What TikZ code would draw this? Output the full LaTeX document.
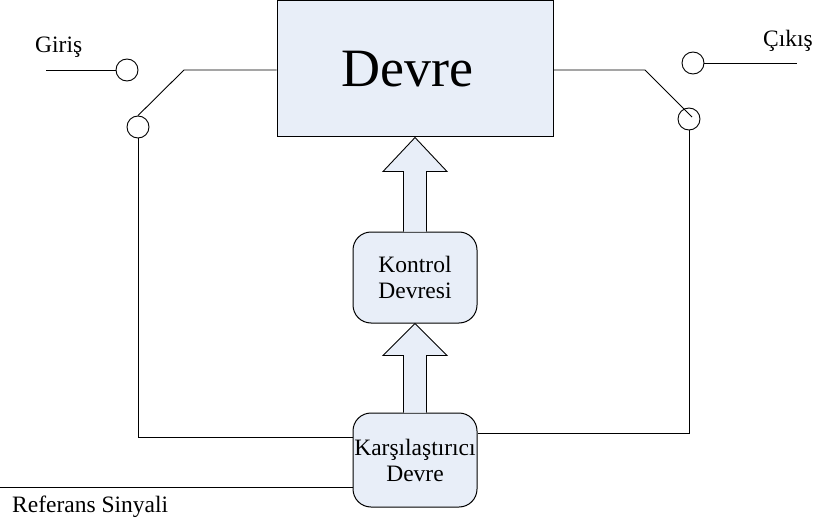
\documentclass[tikz,border=0pt]{standalone}
\usepackage{fontspec}
\setmainfont{Liberation Serif}
\usetikzlibrary{calc}
\definecolor{boxfill}{RGB}{232,238,248}
\begin{document}
\begin{tikzpicture}[x=1pt,y=-1pt,
  wire/.style={draw=black,line width=0.9pt},
  mainbox/.style={draw=black,line width=1pt,fill=boxfill,minimum width=276pt,minimum height=136pt,inner sep=0pt},
  roundbox/.style={draw=black,line width=1pt,fill=boxfill,rounded corners=18pt,minimum width=124pt,inner sep=0pt,align=center,
    font=\fontsize{23.5}{26}\selectfont},
  terminal/.style={draw=black,line width=0.9pt,fill=white,circle,minimum size=22pt,inner sep=0pt},
  blockarrow/.style={draw=black,line width=0.9pt,fill=boxfill,line join=miter},
  lbl/.style={font=\fontsize{23.5}{27}\selectfont,inner sep=0pt}]
\useasboundingbox (0,0) rectangle (817,524);

% main block
\node[mainbox] (devre) at (415,69) {};
\node[anchor=base,inner sep=0pt,font=\fontsize{54}{60}\selectfont] (devretxt) at (407.5,87) {Devre};

% control and comparator blocks
\node[roundbox,minimum height=91pt] (kontrol) at (415,277.5) {Kontrol\\Devresi};
\node[roundbox,minimum height=94pt] (karsi) at (415,460) {Karşılaştırıcı\\Devre};

% switch terminals
\node[terminal] (c1) at (127,70) {};
\node[terminal] (c2) at (138,127) {};
\node[terminal] (c3) at (693,63) {};
\node[terminal] (c4) at (689,119) {};

\coordinate (inL) at (46,70);
\coordinate (swL) at (184,70);
\coordinate (swR) at (645,70);
\coordinate (swRend) at (692,117);
\coordinate (outR) at (797,63);
\coordinate (fbL) at (138,437);
\coordinate (fbR) at (689,433);
\coordinate (refL) at (0,487);

% input side
\draw[wire] (inL) -- (c1.west);
\draw[wire] (c2.north) -- (swL) -- (devre.west |- swL);
\draw[wire] (c2.south) -- (fbL) -- (karsi.west |- fbL);

% output side
\draw[wire] (devre.east |- swR) -- (swR) -- (swRend);
\draw[wire] (c3.east) -- (outR);
\draw[wire] (c4.south) -- (fbR) -- (karsi.east |- fbR);

% reference input
\draw[wire] (refL) -- (karsi.west |- refL);

% block arrows
\filldraw[blockarrow] ($(kontrol.north)+(-11.5,0)$) -- ($(devre.south)+(-11.5,34)$) -- ($(devre.south)+(-32,34)$)
  -- (devre.south) -- ($(devre.south)+(32,34)$) -- ($(devre.south)+(11.5,34)$) -- ($(kontrol.north)+(11.5,0)$);
\filldraw[blockarrow] ($(karsi.north)+(-11.5,0)$) -- ($(kontrol.south)+(-11.5,32)$) -- ($(kontrol.south)+(-32,32)$)
  -- (kontrol.south) -- ($(kontrol.south)+(32,32)$) -- ($(kontrol.south)+(11.5,32)$) -- ($(karsi.north)+(11.5,0)$);

% labels
\node[lbl,anchor=base west] (giris) at (35,53) {Giriş};
\node[lbl,anchor=base west] (cikis) at (763,47) {Çıkış};
\node[lbl,anchor=base west] (ref) at (12,512) {Referans Sinyali};
\end{tikzpicture}
\end{document}
